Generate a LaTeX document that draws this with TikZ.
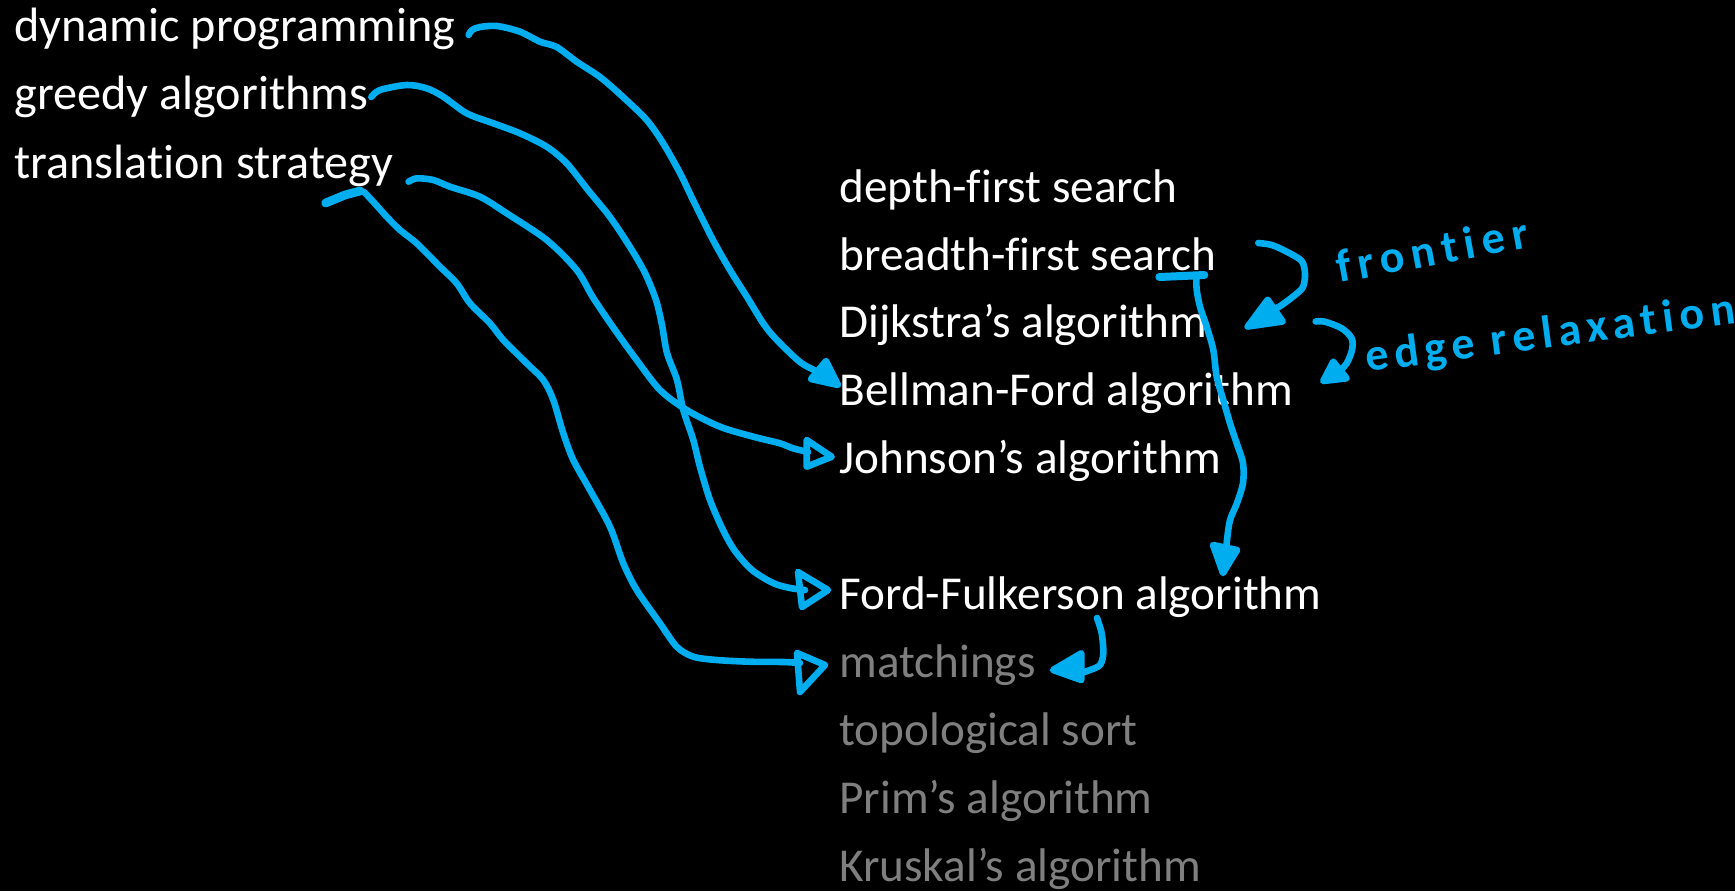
\documentclass[tikz,border=0pt]{standalone}
\usepackage{fontspec}
\setmainfont{Carlito}[Ligatures={NoCommon}]
\definecolor{ink}{HTML}{00AEEF}
\definecolor{dim}{HTML}{7F7F7F}

\begin{document}
\begin{tikzpicture}[x=0.5pt,y=-0.5pt,
  item/.style={anchor=base west, inner sep=0pt, text=white,
    font=\fontsize{23.6}{28}\selectfont},
  lead/.style={item, font=\fontsize{24.1}{28}\selectfont},
  faded/.style={item, text=dim},
  pen/.style={draw=ink, line width=3.3pt, line cap=round, line join=round},
  headfill/.style={pen, fill=ink},
  note/.style={anchor=base west, inner sep=0pt, text=ink,
    font=\fontsize{23}{26}\selectfont\bfseries}
]
% canvas
\fill[black] (0,0) rectangle (1735,891);
\useasboundingbox (0,0) rectangle (1735,891);

% strategies
\node[lead] (dp)     at (14,41)    {dynamic programming};
\node[lead] (greedy) at (14,109.5) {greedy algorithms};
\node[lead] (trans)  at (14,178)   {translation strategy};

% graph algorithms
\node[item]  (dfs)   at (839,202)   {depth-first search};
\node[item]  (bfs)   at (839,270)   {breadth-first search};
\node[item]  (dij)   at (839,337.5) {Dijkstra’s algorithm};
\node[item]  (bf)    at (839,405)   {Bellman-Ford algorithm};
\node[item]  (john)  at (839,473)   {Johnson’s algorithm};
\node[item]  (ff)    at (839,609)   {Ford-Fulkerson algorithm};
\node[faded] (match) at (839,677)   {matchings};
\node[faded] (topo)  at (839,745)   {topological sort};
\node[faded] (prim)  at (839,813)   {Prim’s algorithm};
\node[faded] (krus)  at (839,881)   {Kruskal’s algorithm};

% handwritten notes
\node[note, rotate=10.5] (fr) at (1339,283)
  {\addfontfeature{LetterSpace=15}frontier};
\node[note, rotate=7.5] (er) at (1367,372)
  {\addfontfeature{LetterSpace=13}edge relaxation};

% end points of the strokes
\coordinate (dpOut)    at ([shift={(13,-6)}]dp.base east);
\coordinate (grOut)    at ([shift={(3,-12.5)}]greedy.base east);
\coordinate (trOut)    at ([shift={(15,3.7)}]trans.base east);
\coordinate (trHook)   at ([shift={(-68,25)}]trans.base east);
\coordinate (bfTip)    at ([shift={(-1,-20)}]bf.base west);
\coordinate (johnTip)  at ([shift={(-7.3,-16.3)}]john.base west);
\coordinate (ffTip)    at ([shift={(-11,-19)}]ff.base west);
\coordinate (matchTip) at ([shift={(-14,-12)}]match.base west);
\coordinate (bfsOut)   at ([shift={(-20,7)}]bfs.base east);
\coordinate (ffTop)    at ([shift={(384,-36)}]ff.base west);
\coordinate (frOut)    at ([shift={(42,-27)}]bfs.base east);
\coordinate (frTip)    at ([shift={(40,-11)}]dij.base east);
\coordinate (erOut)    at ([shift={(108,-16)}]dij.base east);
\coordinate (erTip)    at ([shift={(30,-24)}]bf.base east);
\coordinate (ffOut)    at ([shift={(258,9)}]ff.base west);
\coordinate (mtTip)    at ([shift={(17,-7)}]match.base east);

% dynamic programming -> Bellman-Ford
\draw[pen] plot[smooth, tension=0.5] coordinates {(dpOut) (472,30) (480,27)
  (497,26) (520,31.7) (540,41.7) (556.7,47) (576.7,61.7) (600,77) (623,97)
  (646.7,120) (663,143) (680,173) (693,200) (713,240) (730,270) (747,297)
  (763,323) (775,338) (800,362) (820,373) (832,380)};
\draw[headfill] (bfTip) -- +(-12,-24) -- +(-27,-6) -- cycle;

% greedy algorithms -> Ford-Fulkerson
\draw[pen] plot[smooth, tension=0.5] coordinates {(grOut) (380,90) (406.7,85)
  (426.7,88.3) (443.3,96.7) (466.7,113.3) (493.3,123.3) (520,133.3)
  (546.7,146.7) (566.7,163.3) (588,190) (610,217) (630,247) (645,273)
  (656,300) (662,325) (667,353) (677,380) (683.3,410) (693.3,440) (700,467)
  (710,500) (723,530) (735,551) (752,570) (773,583) (790,588) (805,590)};
\draw[pen] (ffTip) -- +(-30,-18) -- +(-26,17) -- cycle;

% translation strategy -> Johnson
\draw[pen] plot[smooth, tension=0.5] coordinates {(trOut) (416.7,178.3)
  (433.3,180) (450,186.7) (480,196.7) (506.7,213.3) (546.7,240) (576.7,270)
  (593.3,298) (615,330) (636.7,360) (660,390) (686.7,410) (720,426.7)
  (753.3,436.7) (780,443.3) (792,448) (808,452)};
\draw[pen] (johnTip) -- +(-25,-16.7) -- +(-25,10) -- cycle;

% translation strategy (hook) -> matchings
\draw[pen, line width=4.4pt] (trHook) -- (345,195) -- (360,191);
\draw[pen] plot[smooth, tension=0.5] coordinates {(trHook) (343,195.5)
  (361,191) (370,198.3) (386.7,216.7) (400,230) (416.7,243.3) (440,266.7)
  (456.7,283.3) (470,303.3) (490,323.3) (503.3,340) (526.7,363.3) (543.3,380)
  (553.3,400) (563.3,433.3) (573.3,460) (590,490) (610,526.7) (623.3,563.3)
  (636.7,590) (660,623.3) (676.7,646.7) (693.3,656.7) (716.7,660) (750,661.7)
  (783.3,662) (800,663)};
\draw[pen] (matchTip) -- +(-28,-12) -- +(-25,27) -- cycle;

% breadth-first search -> Ford-Fulkerson
\draw[pen, line width=4pt] ([shift={(-57,7)}]bfs.base east) -- ([shift={(-12,5)}]bfs.base east);
\draw[pen] plot[smooth, tension=0.5] coordinates {(bfsOut) (1196.7,290)
  (1200,306.7) (1206.7,326.7) (1213.3,350) (1216.7,376.7) (1223.3,400)
  (1230,423.3) (1236.7,443.3) (1243,463) (1243,483) (1237,503) (1230,520)
  (1227,540) (1225,560)};
\draw[headfill] (ffTop) -- +(-10,-28) -- +(14,-23) -- cycle;

% frontier: breadth-first search -> Dijkstra
\draw[pen] plot[smooth, tension=0.5] coordinates {(frOut) (1271.7,245)
  (1286.7,251.7) (1301.7,261) (1305,274) (1303,287) (1295,295) (1281.7,305)
  (1268,313)};
\draw[headfill] (frTip) -- +(20,-26.7) -- +(35,-5) -- cycle;

% edge relaxation: Dijkstra -> Bellman-Ford
\draw[pen] plot[smooth, tension=0.5] coordinates {(erOut) (1325,321.7)
  (1341.7,328.3) (1351.7,338.3) (1352,350) (1346.7,363.3) (1338,373)};
\draw[headfill] (erTip) -- +(10,-19.3) -- +(23.4,-2.7) -- cycle;

% Ford-Fulkerson -> matchings
\draw[pen] plot[smooth, tension=0.5] coordinates {(ffOut) (1101.7,633.3)
  (1103.3,653.3) (1100,665) (1090,670) (1078,674)};
\draw[headfill] (mtTip) -- +(28.3,-16.7) -- +(28.3,10) -- cycle;
\end{tikzpicture}
\end{document}
